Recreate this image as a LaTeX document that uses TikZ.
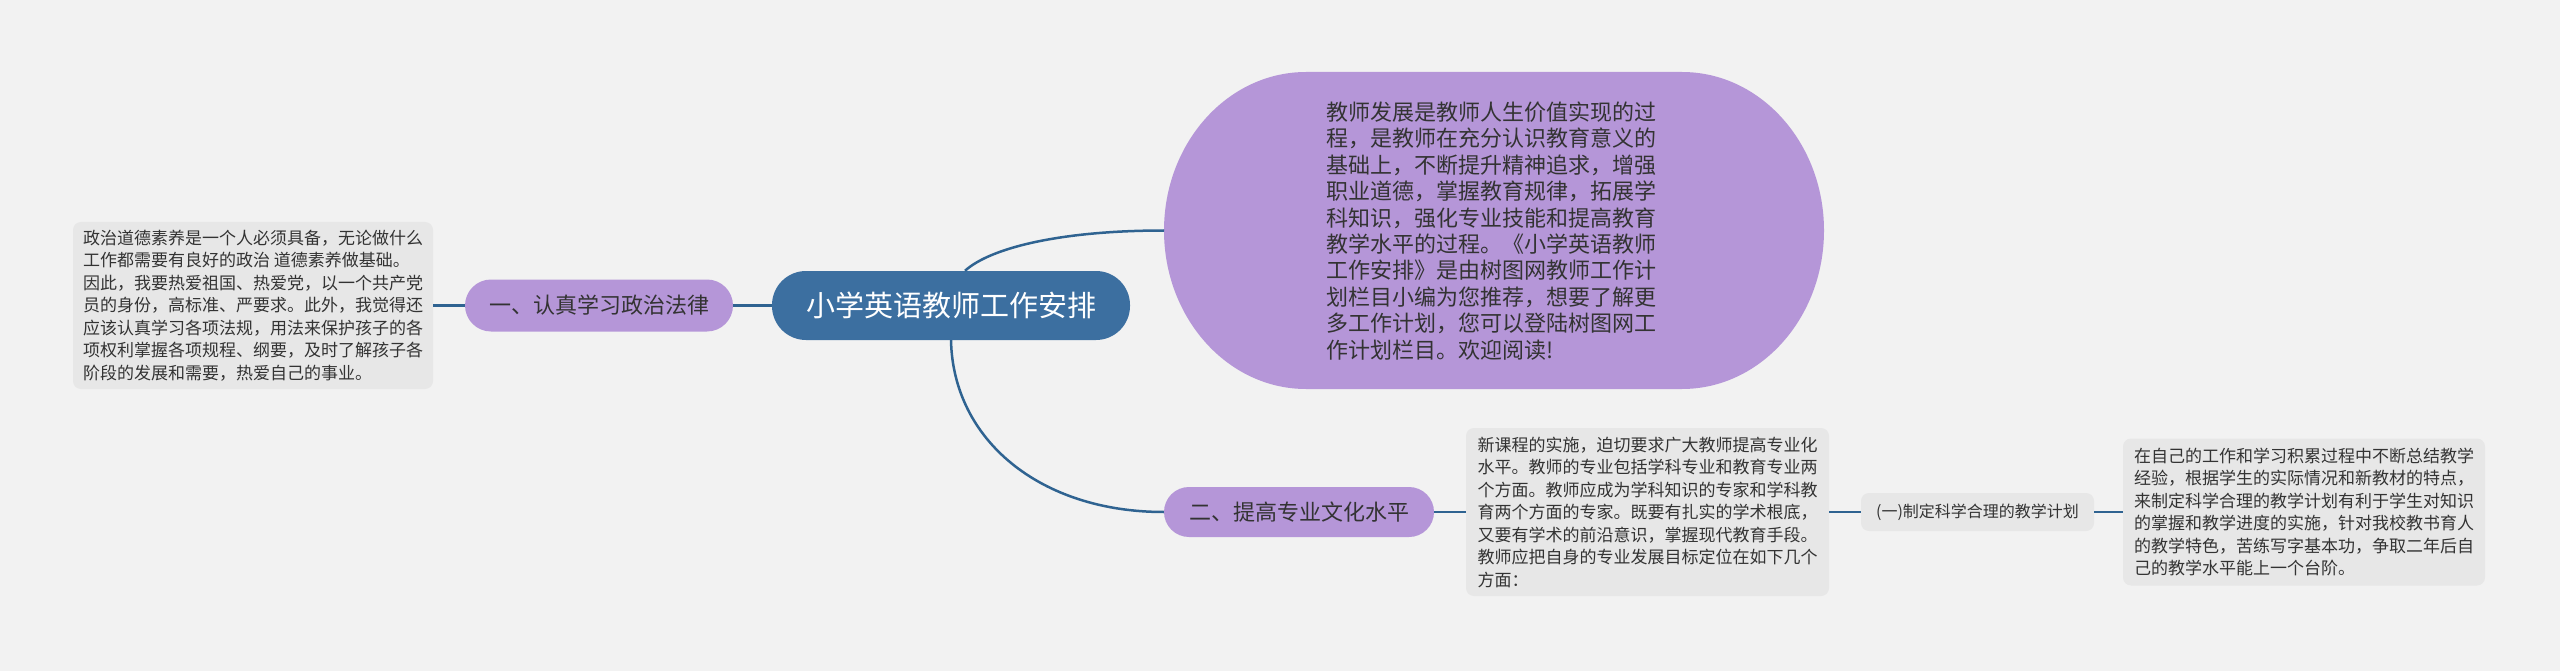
\documentclass[tikz,border=0pt]{standalone}
\usepackage{fontspec}
\newfontfamily\cjk{Noto Sans CJK SC}
\usetikzlibrary{calc}
\definecolor{bgc}{HTML}{F2F2F2}
\definecolor{boxc}{HTML}{E7E7E7}
\definecolor{purp}{HTML}{B596D8}
\definecolor{rootc}{HTML}{3C6FA0}
\definecolor{linec}{HTML}{2F6391}
\definecolor{txtc}{HTML}{333333}
\begin{document}
\begin{tikzpicture}[x=1pt,y=-1pt,
  conn/.style={draw=linec, line width=2.5pt},
  textbox/.style={fill=boxc, rounded corners=8pt, inner sep=0pt, align=left, text=txtc,
     font=\cjk\fontsize{17}{22.5}\selectfont},
  pillnode/.style={fill=purp, inner sep=0pt, text=txtc, font=\cjk\fontsize{22}{26}\selectfont},
  rootnode/.style={fill=rootc, inner sep=0pt, text=white, font=\cjk\fontsize{29}{34}\selectfont},
  subnode/.style={fill=boxc, rounded corners=8pt, inner sep=0pt, text=txtc, font=\cjk\fontsize{16}{20}\selectfont}
]
\useasboundingbox[fill=bgc] (0,0) rectangle (2560,671);

% big rounded shape behind intro text
\fill[purp] (1306,72) -- (1682,72) arc[start angle=-90,end angle=90,x radius=142,y radius=158.5]
  -- (1306,389) arc[start angle=90,end angle=270,x radius=142,y radius=158.5] -- cycle;
\coordinate (introW) at (1164,230.5);

\node[textbox, minimum width=360pt, minimum height=167pt] (leftbox) at (253,305.5) {政治道德素养是一个人必须具备，无论做什么\\工作都需要有良好的政治 道德素养做基础。\\因此，我要热爱祖国、热爱党，以一个共产党\\员的身份，高标准、严要求。此外，我觉得还\\应该认真学习各项法规，用法来保护孩子的各\\项权利掌握各项规程、纲要，及时了解孩子各\\阶段的发展和需要，热爱自己的事业。};

\node[pillnode, rounded corners=26pt, minimum width=268pt, minimum height=52pt] (n1) at (599,305.5) {一、认真学习政治法律};

\node[rootnode, rounded corners=34pt, minimum width=358pt, minimum height=69pt] (root) at (951,305.5) {小学英语教师工作安排};

\node[inner sep=0pt, align=left, text=txtc, font=\cjk\fontsize{22}{26.4}\selectfont] (intro) at (1491,231) {教师发展是教师人生价值实现的过\\程，是教师在充分认识教育意义的\\基础上，不断提升精神追求，增强\\职业道德，掌握教育规律，拓展学\\科知识，强化专业技能和提高教育\\教学水平的过程。《小学英语教师\\工作安排》是由树图网教师工作计\\划栏目小编为您推荐，想要了解更\\多工作计划，您可以登陆树图网工\\作计划栏目。欢迎阅读!};

\node[pillnode, rounded corners=25pt, minimum width=270pt, minimum height=50pt] (n2) at (1299,512) {二、提高专业文化水平};

\node[textbox, minimum width=363pt, minimum height=168pt] (box2) at (1647.5,512) {新课程的实施，迫切要求广大教师提高专业化\\水平。教师的专业包括学科专业和教育专业两\\个方面。教师应成为学科知识的专家和学科教\\育两个方面的专家。既要有扎实的学术根底，\\又要有学术的前沿意识，掌握现代教育手段。\\教师应把自身的专业发展目标定位在如下几个\\方面：};

\node[subnode, minimum width=233pt, minimum height=38pt] (sub) at (1977.5,512) {(一)制定科学合理的教学计划};

\node[textbox, minimum width=362pt, minimum height=147pt] (box3) at (2304,512) {在自己的工作和学习积累过程中不断总结教学\\经验，根据学生的实际情况和新教材的特点，\\来制定科学合理的教学计划有利于学生对知识\\的掌握和教学进度的实施，针对我校教书育人\\的教学特色，苦练写字基本功，争取二年后自\\己的教学水平能上一个台阶。};

% connectors
\draw[conn] (root.west) -- (n1.east);
\draw[conn] (n1.west) -- (leftbox.east);
\draw[conn] ($(root.north)+(14,0)$) .. controls (990,248) and (1060,230.5) .. (introW);
\draw[conn] (root.south) .. controls (953,440) and (1040,512) .. (n2.west);
\draw[conn] (n2.east) -- (box2.west);
\draw[conn] (box2.east) -- (sub.west);
\draw[conn] (sub.east) -- (box3.west);
\end{tikzpicture}
\end{document}
